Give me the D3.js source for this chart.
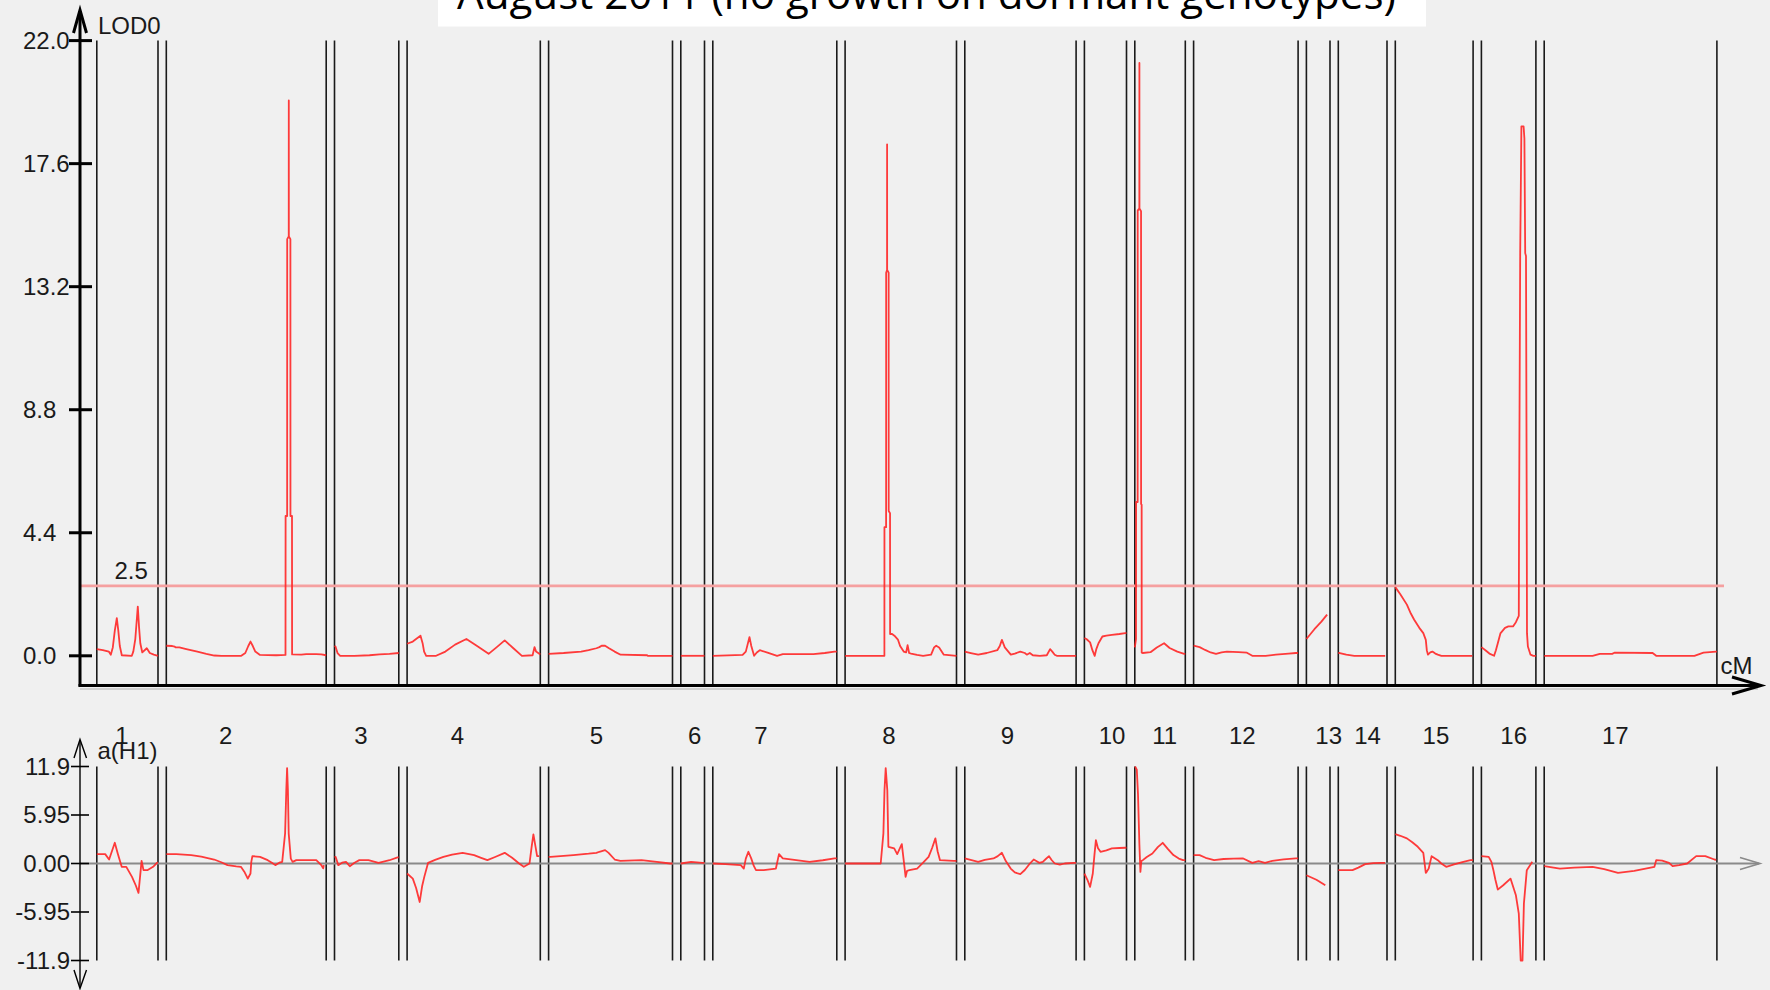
<!DOCTYPE html>
<html><head><meta charset="utf-8">
<script src="https://cdn.jsdelivr.net/npm/d3@7"></script>
<style>html,body{margin:0;padding:0;background:#f0f0f0;overflow:hidden} svg{display:block}</style>
</head><body>
<svg id="c" width="1770" height="990"></svg>
<script>
// ---------------- DATA ----------------
const title = "August 2011 (no growth on dormant genotypes)";
const chromosomes = ["1","2","3","4","5","6","7","8","9","10","11","12","13","14","15","16","17"];
const chromLengths = [61.2,159.9,64.3,133.2,123.9,23.7,124.0,111.4,111.3,42.1,50.5,104.5,23.6,48.7,77.8,54.5,172.7];
const labelPos = [25.1,59.3,26.4,50.4,47.8,14,48.1,43.9,42.7,27.7,29.8,48.7,22.3,29.3,40.6,32.3,71.1];
const lodTicks = [0,4.4,8.8,13.2,17.6,22.0];
const effectTicks = [-11.9,-5.95,0,5.95,11.9];
const effectTickLabels = ["-11.9","-5.95","0.00","5.95","11.9"];
const threshold = 2.5;

// LOD profiles [cM, LOD]
const lod1 = [[0,0.24],[6,0.2],[12,0.15],[14,0.04],[16,0.3],[18,0.9],[20,1.35],[21.5,0.9],[23,0.35],[25,0.02],[35,0],[36.5,0.15],[38.5,0.6],[40,1.3],[41,1.76],[42.3,1.0],[43.5,0.45],[45.5,0.12],[50,0.27],[53,0.1],[57,0.04],[61.2,0]];
const lod2 = [[0,0.36],[6,0.35],[8.5,0.33],[9,0.3],[13,0.3],[20,0.24],[30,0.16],[40,0.07],[48,0.01],[55,0],[75,0],[79,0.1],[82,0.35],[84.2,0.51],[86.5,0.35],[89,0.15],[93.7,0.03],[110,0.02],[119.2,0.03],[119.3,5.0],[120.85,5.0],[120.9,14.9],[122.45,15.0],[122.5,19.86],[122.55,15.0],[124.1,14.9],[124.15,5.0],[125.7,5.0],[125.8,0.05],[135,0.04],[140,0.06],[150,0.06],[155,0.05],[159.9,0.02]];
const lod3 = [[0,0.35],[1,0.33],[3,0.1],[5.7,0],[20,0],[35,0.02],[45,0.05],[55,0.07],[64.3,0.1]];
const lod4 = [[0,0.43],[5.7,0.51],[9,0.6],[13.4,0.72],[15.5,0.45],[17,0.15],[19.1,0],[29,0],[38.3,0.15],[48,0.4],[59.3,0.6],[70,0.35],[81.5,0.07],[90,0.32],[97.6,0.55],[106,0.28],[114.8,0],[125.5,0.02],[127.4,0.31],[129,0.15],[133.2,0.05]];
const lod5 = [[0,0.07],[15,0.1],[32.5,0.15],[40,0.2],[47.8,0.27],[50.8,0.31],[53,0.36],[56.5,0.36],[60,0.28],[66,0.15],[72,0.04],[98.6,0.02],[99,0],[123.9,0]];
const lod6 = [[0,0],[23.7,0]];
const lod7 = [[0,0],[29.8,0.03],[33,0.15],[36.7,0.67],[38.5,0.35],[41.3,0],[44,0.12],[47,0.2],[54.7,0.11],[64.3,0],[70,0.06],[100.6,0.06],[112,0.1],[121.7,0.15],[124,0.15]];
const lod8 = [[0,0],[39.3,0],[39.35,4.6],[41,4.6],[41.05,13.7],[41.95,13.8],[42,18.29],[42.05,13.8],[43.55,13.7],[43.6,5.18],[44.95,5.1],[45,0.78],[47,0.78],[49.3,0.72],[52.8,0.58],[55,0.35],[58.6,0.15],[61,0.12],[62.5,0.38],[64,0.1],[66,0.08],[71.9,0.03],[78,0],[86,0.04],[89,0.3],[91.1,0.36],[94,0.3],[98.7,0.04],[111.4,0]];
const lod9 = [[0,0.15],[6,0.1],[13.4,0.04],[22,0.1],[32.5,0.2],[35,0.35],[37.1,0.57],[40,0.3],[46,0.04],[50,0.08],[55.5,0.15],[60,0.1],[62,0.04],[65,0.1],[68,0.02],[75,0],[82,0.02],[85.3,0.24],[87.5,0.15],[89.9,0.04],[92,0],[111.3,0]];
const lod10 = [[0,0.63],[2,0.6],[5.7,0.48],[8,0.2],[10.3,0],[12,0.25],[14.1,0.45],[18,0.69],[22,0.72],[27.5,0.75],[35,0.78],[40.9,0.81],[42.1,0.81]];
const lod11 = [[0,0.3],[1.2,0.6],[1.3,5.5],[2.85,5.5],[2.9,15.92],[4.55,16],[4.6,21.2],[4.65,16],[6.25,15.9],[6.3,5.43],[6.85,5.4],[6.9,0.11],[8,0.1],[15.7,0.13],[22,0.3],[29.3,0.45],[34.8,0.28],[42.5,0.15],[49.4,0.07],[50.5,0.07]];
const lod12 = [[0,0.36],[6,0.31],[11.5,0.21],[17,0.12],[22.4,0.07],[28,0.12],[33.3,0.15],[45,0.13],[53.3,0.11],[58.7,0],[72,0],[82.3,0.04],[95,0.08],[102.3,0.1],[104.5,0.1]];
const lod13 = [[0,0.6],[8,0.95],[15,1.22],[20.7,1.47]];
const lod14 = [[0,0.1],[1.5,0.1],[8,0.04],[16,0],[46.9,0]];
const lod15 = [[0,2.45],[0.7,2.42],[5,2.2],[11.6,1.83],[15,1.55],[18.9,1.29],[24,1.0],[28,0.81],[30.5,0.57],[31.5,0.2],[32.7,0.04],[35,0.12],[37.1,0.15],[40,0.08],[42.5,0.04],[46.1,0],[77,0]];
const lod16 = [[0,0.31],[4,0.2],[8,0.08],[12.7,0],[14.5,0.2],[16.4,0.45],[19,0.8],[23.6,1.0],[27,1.05],[31.6,1.05],[34.5,1.2],[37.4,1.43],[37.6,4],[38.8,14.4],[40,18.93],[42.2,18.93],[43,18.5],[43.8,14.4],[44.6,14.3],[45.4,4],[45.6,0.8],[46.5,0.33],[49.1,0.04],[52,0],[54.5,0]];
const lod17 = [[0,0],[48.4,0],[55.6,0.07],[68,0.07],[70.2,0.11],[108.4,0.1],[112,0],[150.2,0],[159.3,0.11],[172,0.15],[172.7,0.15]];

// additive effect a(H1) [cM, a]
const add1 = [[0,1.15],[8.4,1.15],[12.3,0.49],[18,2.54],[21,1.2],[24.9,-0.41],[29.5,-0.41],[35.2,-1.64],[39,-2.7],[41.7,-3.6],[44.8,0.33],[46.7,-0.82],[50.5,-0.82],[56.3,-0.41],[60.1,0.08],[61.2,0.1]];
const add2 = [[0,1.15],[10,1.15],[24.9,1.03],[35,0.85],[47.8,0.49],[55,0.15],[61.2,-0.2],[70,-0.35],[74.6,-0.41],[78,-1.0],[81.5,-1.85],[84.2,-1.23],[85,0.2],[86.1,0.9],[93.7,0.82],[101.4,0.41],[106,0.05],[109,-0.2],[113,0.1],[115.9,0.2],[118.8,3.7],[120,9],[120.8,11.7],[121.6,9],[122.4,3.7],[124.5,0.6],[126.3,0.2],[130,0.41],[150,0.41],[155,-0.2],[156.9,-0.6],[157.5,-0.2]];
const add3 = [[0,0.82],[1.1,0.82],[3.8,-0.2],[7.5,0.1],[11.5,0.2],[15.3,-0.33],[20,0.1],[24.8,0.41],[34,0.41],[44,0.08],[55,0.4],[63.1,0.74],[64.3,0.74]];
const add4 = [[0,-1.23],[5.7,-1.85],[9,-3.0],[12.6,-4.72],[15,-2.8],[17.2,-1.64],[21,0.08],[28,0.45],[36.3,0.82],[45,1.1],[55.5,1.31],[62,1.15],[67,1.03],[74,0.7],[80.3,0.41],[88,0.8],[97.6,1.31],[105,0.7],[112,0.0],[116.7,-0.41],[122.4,0],[124.5,2.0],[126.3,3.57],[128.5,2.0],[130,0.9],[132,0.9]];
const add5 = [[0,0.82],[1.9,0.82],[24.8,1.03],[40,1.2],[47.8,1.31],[50.8,1.44],[56.5,1.64],[60,1.3],[66.1,0.49],[71.8,0.33],[92.9,0.41],[108.2,0.2],[121.6,0],[123.9,0]];
const add6 = [[0,0],[10.3,0.2],[21.8,0.08],[23.7,0.08]];
const add7 = [[0,0],[12.8,-0.08],[28,-0.2],[31,-0.62],[33,0.6],[35.6,1.44],[38.5,0.6],[41,-0.3],[43.2,-0.82],[50.9,-0.82],[63.1,-0.62],[66.2,1.15],[70,0.62],[96.8,0.2],[110,0.4],[121.7,0.62],[124,0.62]];
const add8 = [[0,0],[35.6,0],[38.3,3.7],[39.4,9.0],[40.6,11.7],[42.2,9.0],[43.3,2.05],[49.1,1.85],[52.1,1.15],[54.5,1.8],[56.7,2.38],[58.5,0.5],[60.5,-1.64],[62,-0.9],[64.3,-0.82],[72,-0.62],[78,0.1],[83.5,0.82],[87,1.9],[90.3,3.08],[92.5,1.5],[94.9,0.41],[108.3,0.33],[111.4,0.33]];
const add9 = [[0,0.62],[13.4,0.2],[20,0.45],[28.7,0.62],[33,0.9],[37.1,1.31],[41,0.3],[45.9,-0.62],[50,-1.1],[55.5,-1.31],[60,-0.8],[65.1,0],[68.9,0.49],[71.5,0.3],[74.6,0.08],[78,0.2],[81,0.55],[84.2,0.9],[87,0.4],[90,0],[95,-0.15],[100,0],[109,0.08],[111.3,0.08]];
const add10 = [[0,-1.23],[3,-2.0],[5.7,-2.87],[8.4,-1.23],[10,1.0],[11.5,2.87],[13.5,1.9],[16.1,1.44],[22,1.6],[27.5,1.85],[35,1.9],[40.9,1.93],[42.1,1.93]];
const add11 = [[0.3,11.9],[2.0,11.5],[3.2,8.5],[4.6,2.3],[5.6,-1.03],[6.5,0.3],[8,0.41],[12,0.8],[17.6,1.23],[23,2.0],[27.9,2.54],[33,1.8],[38.6,1.03],[44,0.6],[48.2,0.41],[50.5,0.41]];
const add12 = [[0,1.03],[6,1.03],[12,0.7],[20.5,0.41],[30,0.55],[40,0.6],[49.6,0.62],[58.7,0.08],[65,0.3],[71.4,0.08],[78.7,0.33],[90,0.5],[102.3,0.62],[104.5,0.62]];
const add13 = [[0,-1.44],[10,-2.0],[18.9,-2.67]];
const add14 = [[0,-0.82],[14.2,-0.82],[20,-0.5],[26.9,-0.08],[35,0.05],[43.3,0.08],[46.9,0.08]];
const add15 = [[0,3.61],[5,3.4],[11.6,3.08],[17,2.6],[22.5,2.05],[28,1.31],[30.5,-1.15],[31.5,-1.0],[33.4,-0.62],[36.3,0.9],[42.5,0.41],[46,0],[50.9,-0.41],[58.8,-0.1],[68,0.2],[75.2,0.41],[77.8,0.41]];
const add16 = [[0,0.9],[7.3,0.82],[10,0.2],[12,-0.82],[14,-2.0],[16.4,-3.2],[21.8,-2.67],[29.1,-1.85],[34.5,-3.9],[37.4,-6.16],[39.3,-11.9],[41.1,-11.9],[42.5,-4.92],[45.4,-0.82],[50.9,0.2]];
const add17 = [[0,-0.33],[15.7,-0.62],[30,-0.5],[48.4,-0.41],[60,-0.7],[73.8,-1.15],[90,-0.9],[110.2,-0.41],[112,0.41],[118,0.35],[124.8,0.08],[128.4,-0.33],[135,-0.2],[143,0],[152,0.9],[161.1,0.9],[170.2,0.49],[172,0.45]];

const lodCurves = [lod1,lod2,lod3,lod4,lod5,lod6,lod7,lod8,lod9,lod10,lod11,lod12,lod13,lod14,lod15,lod16,lod17];
const addCurves = [add1,add2,add3,add4,add5,add6,add7,add8,add9,add10,add11,add12,add13,add14,add15,add16,add17];

// ---------------- LAYOUT ----------------
const GAP = 8.3;
const offsets = [];
let acc = 0;
chromLengths.forEach((L,i)=>{ offsets.push(acc); acc += L + (i < chromLengths.length-1 ? GAP : 0); });
const totalLen = acc;

const svg = d3.select("#c");
const FONT = "'Liberation Sans', Arial, sans-serif";
const TXT = "#1a1a1a";
const RED = "#ff2626";

svg.append("rect").attr("width",1770).attr("height",990).attr("fill","#f0f0f0");

const x = d3.scaleLinear().domain([0,totalLen]).range([96.8,1716.9]);
const yLod = d3.scaleLinear().domain([0,22]).range([655.8,40.6]);
const yAdd = d3.scaleLinear().domain([-11.9,11.9]).range([960.5,766.5]);

const axisX = 80;

// title box
svg.append("rect").attr("x",438).attr("y",0).attr("width",988).attr("height",26.5).attr("fill","#ffffff");
const tt = svg.append("text").text(title).attr("x",457).attr("y",8.5)
  .style("font-family","'Open Sans', sans-serif").style("font-size","40px").attr("fill","#000");
const tw = tt.node().getComputedTextLength();
tt.style("font-size",(40*939/tw)+"px");

// ---------- top panel ----------
const gTop = svg.append("g");
chromLengths.forEach((L,i)=>{
  [offsets[i], offsets[i]+L].forEach(v=>{
    gTop.append("line").attr("x1",x(v)).attr("x2",x(v)).attr("y1",yLod(22)).attr("y2",685)
      .attr("stroke","#1a1a1a").attr("stroke-width",1.6);
  });
});
gTop.append("line").attr("x1",axisX).attr("x2",1724).attr("y1",yLod(threshold)).attr("y2",yLod(threshold))
  .attr("stroke","#f5a0a0").attr("stroke-width",2.6);
gTop.append("text").text(threshold.toFixed(1)).attr("x",114.5).attr("y",579)
  .style("font-family",FONT).style("font-size","24px").attr("fill",TXT);

const lineLod = d3.line().x(d=>d[0]).y(d=>yLod(d[1]));
lodCurves.forEach((c,i)=>{
  gTop.append("path").attr("d", lineLod(c.map(p=>[x(offsets[i]+p[0]), p[1]])))
    .attr("fill","none").attr("stroke",RED).attr("stroke-opacity",0.9).attr("stroke-width",1.8).attr("stroke-linejoin","round");
});

gTop.append("line").attr("x1",axisX).attr("x2",axisX).attr("y1",11).attr("y2",686.5).attr("stroke","#000").attr("stroke-width",3);
gTop.append("path").attr("d","M73.5,33 L80,10 L86.5,33").attr("fill","none").attr("stroke","#000").attr("stroke-width",3);
gTop.append("line").attr("x1",axisX).attr("x2",1758).attr("y1",689).attr("y2",689).attr("stroke","#cfcfcf").attr("stroke-width",2);
gTop.append("line").attr("x1",axisX-1.5).attr("x2",1759).attr("y1",685.5).attr("y2",685.5).attr("stroke","#000").attr("stroke-width",3);
gTop.append("path").attr("d","M1732,677 L1761,685.5 L1732,694").attr("fill","none").attr("stroke","#000").attr("stroke-width",3);
lodTicks.forEach(t=>{
  const yy = yLod(t);
  gTop.append("line").attr("x1",69).attr("x2",92).attr("y1",yy).attr("y2",yy).attr("stroke","#000").attr("stroke-width",3);
  gTop.append("text").text(t.toFixed(1)).attr("x",23).attr("y",yy+8.5)
    .style("font-family",FONT).style("font-size","24px").attr("fill",TXT);
});
gTop.append("text").text("LOD0").attr("x",98).attr("y",33.5).style("font-family",FONT).style("font-size","24px").attr("fill",TXT);
gTop.append("text").text("cM").attr("x",1720.5).attr("y",673.5).style("font-family",FONT).style("font-size","24px").attr("fill",TXT);

chromosomes.forEach((c,i)=>{
  svg.append("text").text(c).attr("x",x(offsets[i]+labelPos[i])).attr("y",743.5).attr("text-anchor","middle")
    .style("font-family",FONT).style("font-size","24px").attr("fill",TXT);
});

// ---------- bottom panel ----------
const gBot = svg.append("g");
chromLengths.forEach((L,i)=>{
  [offsets[i], offsets[i]+L].forEach(v=>{
    gBot.append("line").attr("x1",x(v)).attr("x2",x(v)).attr("y1",yAdd(11.9)).attr("y2",yAdd(-11.9))
      .attr("stroke","#1a1a1a").attr("stroke-width",1.6);
  });
});
gBot.append("line").attr("x1",axisX).attr("x2",1759).attr("y1",yAdd(0)).attr("y2",yAdd(0)).attr("stroke","#8a8a8a").attr("stroke-width",2.2);
gBot.append("path").attr("d",`M1740,${yAdd(0)-6} L1760,${yAdd(0)} L1740,${yAdd(0)+6}`).attr("fill","none").attr("stroke","#8a8a8a").attr("stroke-width",1.6);

const lineAdd = d3.line().x(d=>d[0]).y(d=>yAdd(d[1]));
addCurves.forEach((c,i)=>{
  gBot.append("path").attr("d", lineAdd(c.map(p=>[x(offsets[i]+p[0]), p[1]])))
    .attr("fill","none").attr("stroke",RED).attr("stroke-opacity",0.9).attr("stroke-width",1.8).attr("stroke-linejoin","round");
});

gBot.append("line").attr("x1",axisX).attr("x2",axisX).attr("y1",740).attr("y2",988).attr("stroke","#000").attr("stroke-width",1.4);
gBot.append("path").attr("d","M74,758 L80,739.5 L86.5,758").attr("fill","none").attr("stroke","#000").attr("stroke-width",1.4);
gBot.append("path").attr("d","M74,970 L80,988.5 L86.5,970").attr("fill","none").attr("stroke","#000").attr("stroke-width",1.4);
effectTicks.forEach((t,i)=>{
  const yy = yAdd(t);
  gBot.append("line").attr("x1",71).attr("x2",89).attr("y1",yy).attr("y2",yy).attr("stroke","#000").attr("stroke-width",1.6);
  gBot.append("text").text(effectTickLabels[i]).attr("x",70).attr("y",yy+8.3).attr("text-anchor","end")
    .style("font-family",FONT).style("font-size","24px").attr("fill",TXT);
});
gBot.append("text").text("a(H1)").attr("x",97.5).attr("y",759).style("font-family",FONT).style("font-size","24px").attr("fill",TXT);
</script>
</body></html>
